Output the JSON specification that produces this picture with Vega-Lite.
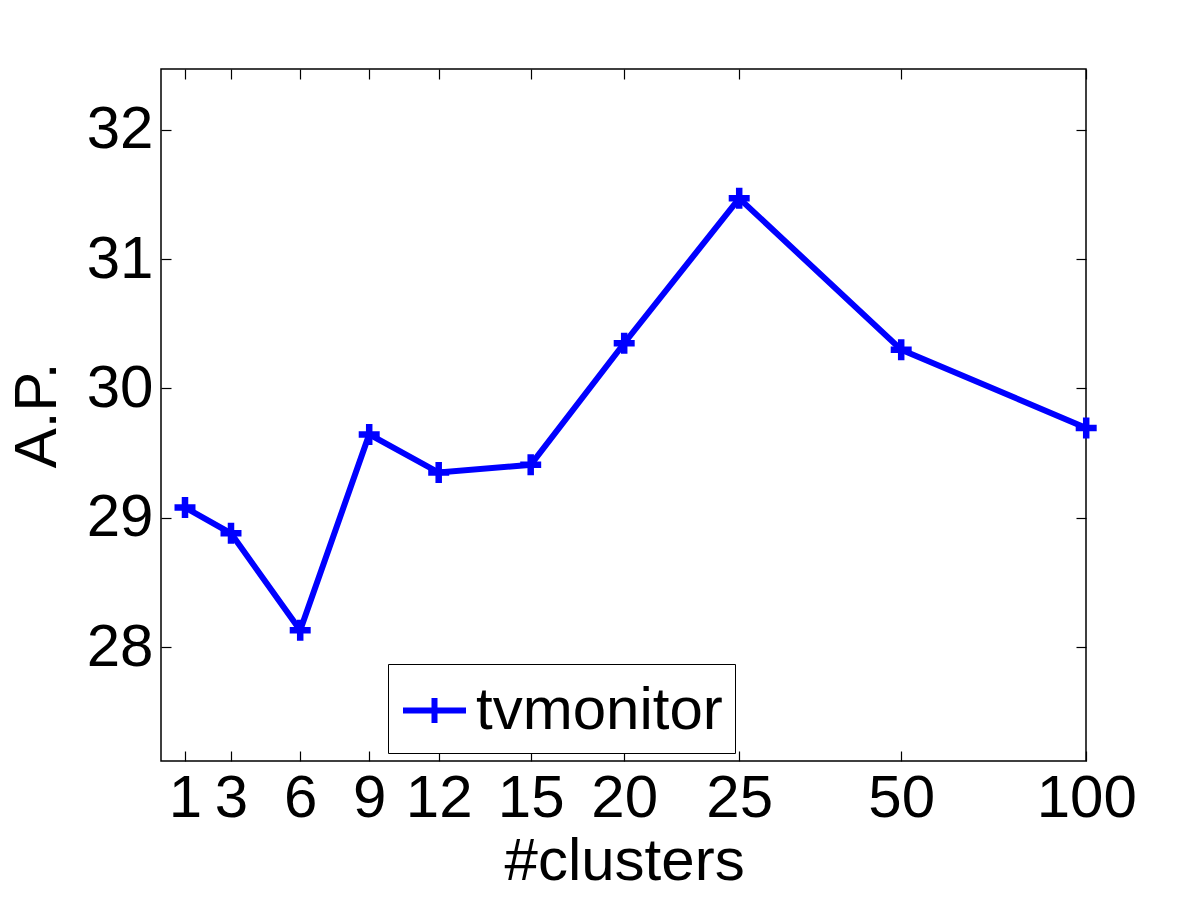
{
  "$schema": "https://vega.github.io/schema/vega-lite/v6.json",
  "width": 925,
  "height": 692,
  "autosize": {"type": "none"},
  "padding": {"left": 161, "top": 69, "right": 114, "bottom": 139},
  "background": "white",
  "config": {
    "view": {"stroke": "black", "strokeWidth": 1.5},
    "font": "Liberation Sans",
    "axis": {
      "labelFont": "Liberation Sans",
      "labelFontSize": 60,
      "labelColor": "black",
      "labelFlush": false,
      "labelOverlap": false,
      "titleFont": "Liberation Sans",
      "titleFontSize": 60,
      "titleFontWeight": "normal",
      "titleColor": "black",
      "domain": false,
      "grid": false,
      "tickColor": "black",
      "tickWidth": 1.2,
      "tickSize": -10,
      "labelPadding": 18
    },
    "legend": {
      "orient": "none",
      "legendX": 227,
      "legendY": 595,
      "strokeColor": "black",
      "fillColor": "white",
      "padding": 12,
      "labelFont": "Liberation Sans",
      "labelFontSize": 60,
      "labelColor": "black",
      "labelOffset": 7,
      "labelLimit": 0,
      "cornerRadius": 0
    }
  },
  "data": {
    "values": [
      {"clusters": 1, "ap": 29.08, "series": "tvmonitor"},
      {"clusters": 3, "ap": 28.88, "series": "tvmonitor"},
      {"clusters": 6, "ap": 28.13, "series": "tvmonitor"},
      {"clusters": 9, "ap": 29.645, "series": "tvmonitor"},
      {"clusters": 12, "ap": 29.35, "series": "tvmonitor"},
      {"clusters": 15, "ap": 29.41, "series": "tvmonitor"},
      {"clusters": 20, "ap": 30.35, "series": "tvmonitor"},
      {"clusters": 25, "ap": 31.47, "series": "tvmonitor"},
      {"clusters": 50, "ap": 30.30, "series": "tvmonitor"},
      {"clusters": 100, "ap": 29.695, "series": "tvmonitor"}
    ]
  },
  "resolve": {"axis": {"x": "independent", "y": "independent"}},
  "layer": [
    {
      "mark": {"type": "line", "strokeWidth": 6, "color": "#0000ff"},
      "encoding": {
        "x": {
          "field": "clusters",
          "type": "quantitative",
          "scale": {
            "domain": [0, 1, 3, 6, 9, 12, 15, 20, 25, 50, 100],
            "range": [1, 24, 70, 139.2, 208.2, 277.7, 369.7, 463.2, 578.2, 740.2, 925.2],
            "nice": false,
            "zero": false
          },
          "axis": {"orient": "bottom", "values": [1, 3, 6, 9, 12, 15, 20, 25, 50, 100], "title": "#clusters"}
        },
        "y": {
          "field": "ap",
          "type": "quantitative",
          "scale": {"domain": [27.12, 32.47], "nice": false, "zero": false},
          "axis": {"orient": "left", "values": [28, 29, 30, 31, 32], "title": "A.P.", "titlePadding": 18}
        },
        "color": {
          "field": "series",
          "type": "nominal",
          "scale": {"range": ["#0000ff"]},
          "legend": {
            "title": null,
            "symbolType": "M-1,0H1M0,-0.4V0.4",
            "symbolSize": 3969,
            "symbolStrokeWidth": 6,
            "symbolStrokeColor": "#0000ff",
            "symbolFillColor": "transparent"
          }
        }
      }
    },
    {
      "mark": {"type": "point", "shape": "M-1,0H1M0,-1V1", "size": 440, "strokeWidth": 6.5, "filled": false, "color": "#0000ff", "opacity": 1},
      "encoding": {
        "x": {"field": "clusters", "type": "quantitative", "axis": null},
        "y": {"field": "ap", "type": "quantitative", "axis": null}
      }
    },
    {
      "mark": {"type": "point", "opacity": 0},
      "encoding": {
        "x": {"field": "clusters", "type": "quantitative", "axis": {"orient": "top", "values": [1, 3, 6, 9, 12, 15, 20, 25, 50, 100], "labels": false, "title": null}},
        "y": {"field": "ap", "type": "quantitative", "axis": {"orient": "right", "values": [28, 29, 30, 31, 32], "labels": false, "title": null}}
      }
    }
  ]
}
